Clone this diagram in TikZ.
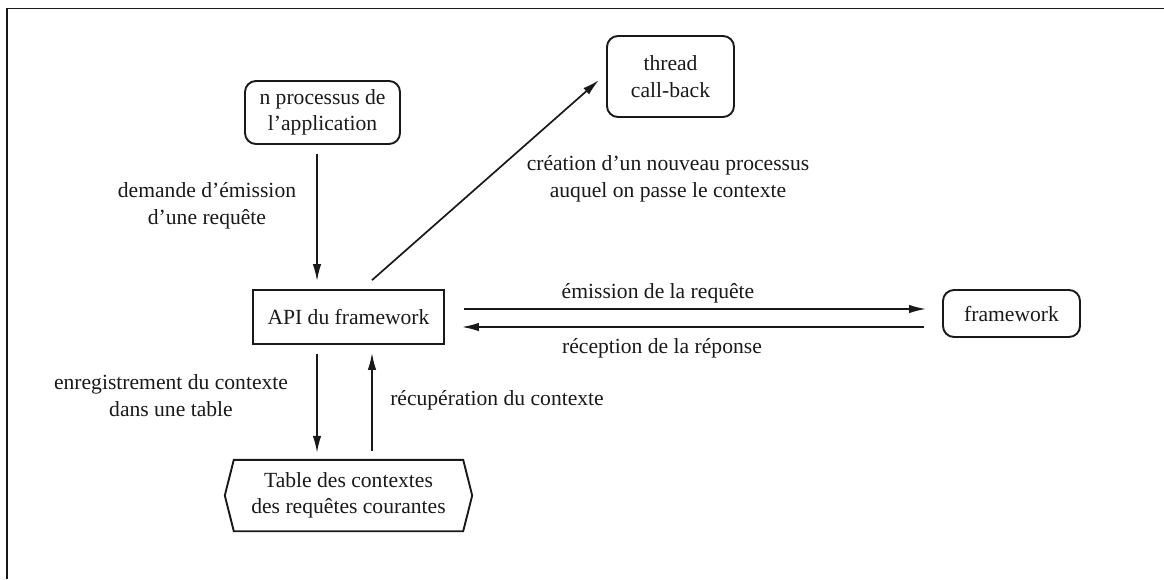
\documentclass[tikz,border=0pt]{standalone}
\usepackage{fontspec}
\setmainfont{Liberation Serif}
\usetikzlibrary{arrows.meta}
\definecolor{ink}{gray}{0.1}
\begin{document}
\begin{tikzpicture}[x=1pt,y=-1pt,
  every node/.style={font=\fontsize{21.6}{26.5}\selectfont, text=ink, align=center, inner sep=0pt},
  roundbox/.style={draw=ink, line width=1.9pt, rounded corners=11pt},
  plainbox/.style={draw=ink, line width=1.7pt},
  conn/.style={draw=ink, line width=1.7pt, -{Latex[length=17pt,width=8.5pt]}},
  lbl/.style={}
]
\useasboundingbox (0,0) rectangle (1164,579);
% frame
\draw[ink, line width=1.5pt] (7,579) -- (7,8.5) -- (1164,8.5);

% nodes
\node[roundbox, minimum width=155pt, minimum height=63pt] (proc) at (322.5,112.5) {n processus de\\l’application};
\node[roundbox, minimum width=127pt, minimum height=81pt] (thread) at (670.5,76.5) {thread\\call-back};
\node[plainbox, minimum width=191pt, minimum height=54pt] (api) at (348.5,317) {API du framework};
\node[roundbox, minimum width=137pt, minimum height=47pt] (fw) at (1011.5,313.5) {framework};
\node[minimum width=229pt, minimum height=71pt] (table) at (348.5,495.5) {Table des contextes\\des requêtes courantes};
\draw[ink, line width=1.9pt] ([xshift=-9pt]table.west) -- (table.north west) -- (table.north east)
  -- ([xshift=9pt]table.east) -- (table.south east) -- (table.south west) -- cycle;

% connectors
\draw[conn, shorten <=9pt, shorten >=8pt] ([xshift=-5.5pt]proc.south) -- ([xshift=-5.5pt]proc.south |- api.north);
\draw[conn] ([xshift=23.5pt,yshift=9pt]api.north) -- ([xshift=-7pt,yshift=-3.5pt]thread.west);
\draw[conn, shorten <=9pt, shorten >=7pt] ([xshift=-31.5pt]api.south) -- ([xshift=-31.5pt]api.south |- table.north);
\draw[conn, shorten <=9pt, shorten >=8pt] ([xshift=23.5pt]api.south |- table.north) -- ([xshift=23.5pt]api.south);
\draw[conn, shorten <=19pt, shorten >=16pt] ([yshift=8pt]api.east) -- ([yshift=8pt]api.east -| fw.west);
\draw[conn, shorten <=18pt, shorten >=17pt] ([yshift=-10pt]api.east -| fw.west) -- ([yshift=-10pt]api.east);

% labels
\node[lbl] (l1) at (207,206) {demande d’émission\\d’une requête};
\node[lbl] (l2) at (668,179) {création d’un nouveau processus\\auquel on passe le contexte};
\node[lbl] (l3) at (658,293) {émission de la requête};
\node[lbl] (l4) at (662,348) {réception de la réponse};
\node[lbl] (l5) at (171,395.5) {enregistrement du contexte\\dans une table};
\node[lbl] (l6) at (497,400) {récupération du contexte};
\end{tikzpicture}
\end{document}
